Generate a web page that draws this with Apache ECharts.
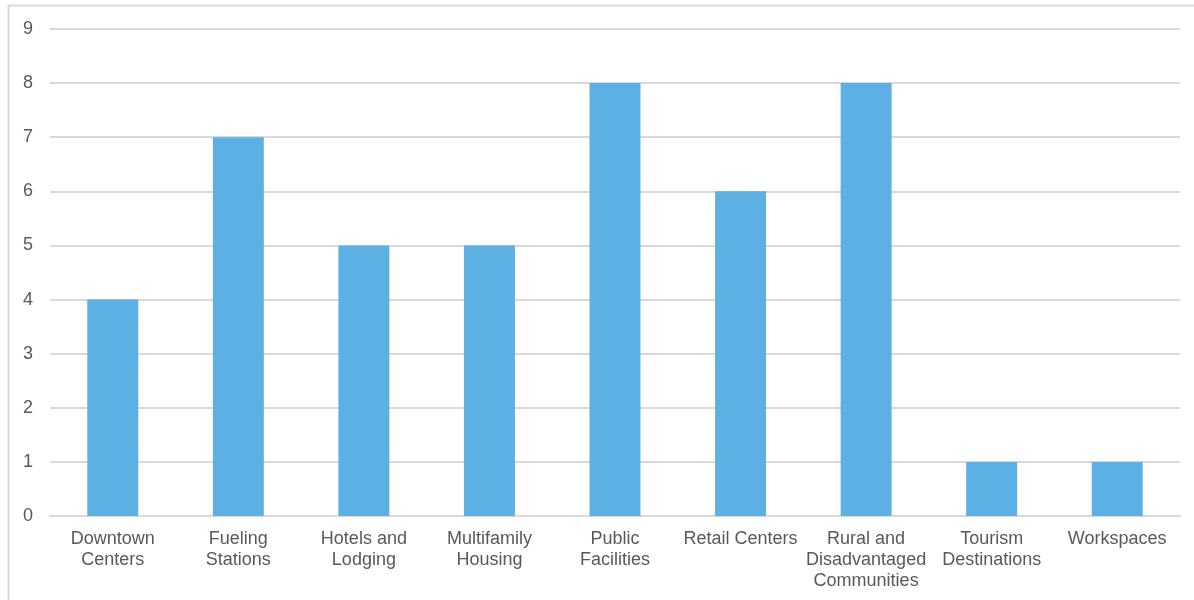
<!DOCTYPE html>
<html>
<head>
<meta charset="utf-8">
<script src="https://cdn.jsdelivr.net/npm/echarts@6/dist/echarts.min.js"></script>
<style>
  html, body { margin: 0; padding: 0; background: #fff; }
  #chart { width: 1194px; height: 600px; }
</style>
</head>
<body>
<div id="chart"></div>
<script>
// Charging site types and counts
const categories = [
  'Downtown\nCenters',
  'Fueling\nStations',
  'Hotels and\nLodging',
  'Multifamily\nHousing',
  'Public\nFacilities',
  'Retail Centers',
  'Rural and\nDisadvantaged\nCommunities',
  'Tourism\nDestinations',
  'Workspaces'
];
const counts = [4, 7, 5, 5, 8, 6, 8, 1, 1];
const yTicks = { min: 0, max: 9, interval: 1 };

const chart = echarts.init(document.getElementById('chart'), null, { renderer: 'canvas' });
chart.setOption({
  backgroundColor: '#ffffff',
  animation: false,
  graphic: [{
    type: 'rect',
    shape: { x: 8.5, y: 5.5, width: 1200, height: 610 },
    style: { fill: 'none', stroke: '#d9d9d9', lineWidth: 2 },
    silent: true
  }],
  grid: { left: 50, right: 14, top: 29, bottom: 84, containLabel: false },
  xAxis: {
    type: 'category',
    data: categories,
    axisLine: { show: true, lineStyle: { color: '#d9d9d9', width: 2 } },
    axisTick: { show: false },
    axisLabel: {
      interval: 0,
      margin: 13,
      color: '#595959',
      fontFamily: 'Liberation Sans, Arial, sans-serif',
      fontSize: 18,
      lineHeight: 21
    }
  },
  yAxis: {
    type: 'value',
    min: yTicks.min,
    max: yTicks.max,
    interval: yTicks.interval,
    axisLine: { show: false },
    axisTick: { show: false },
    splitLine: { lineStyle: { color: '#d9d9d9', width: 2 } },
    axisLabel: {
      margin: 17,
      color: '#595959',
      fontFamily: 'Liberation Sans, Arial, sans-serif',
      fontSize: 18
    }
  },
  series: [{
    type: 'bar',
    data: counts,
    barWidth: '40.6%',
    itemStyle: { color: '#5DB0E3' }
  }]
});
</script>
</body>
</html>
